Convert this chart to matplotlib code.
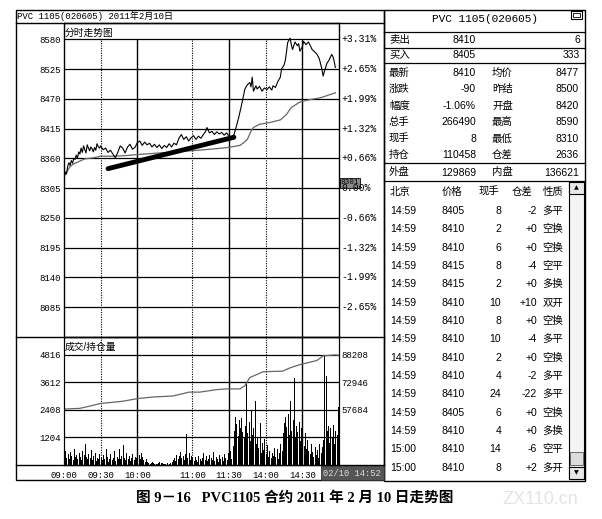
import numpy as np
import matplotlib.pyplot as plt
from matplotlib.patches import Rectangle

plt.rcParams['font.family'] = ['Liberation Sans', 'Noto Sans CJK SC']
MONO = ['Liberation Mono', 'Noto Sans CJK SC']

# 分钟序号: 0 = 09:00, 225 = 15:00 (10:15-10:30, 11:30-13:30 休市)
price_min = [0, 1, 2, 3, 4, 5, 6, 7, 8, 9, 10, 11, 12, 13, 14, 15, 16, 17, 18, 19,
             20, 21, 22, 23, 24, 25, 26, 27, 28, 29, 30, 32, 34, 36, 38, 40, 42, 44, 46, 48,
             50, 52, 54, 56, 58, 60, 62, 64, 66, 68, 70, 72, 74, 76, 78, 80, 82, 84, 86, 88,
             90, 92, 94, 96, 98, 100, 102, 104, 106, 108, 110, 112, 114, 116, 117, 119, 121, 123, 125, 127,
             129, 131, 133, 135, 137, 139, 141, 143, 145, 147, 148, 150, 152, 153, 154, 155, 157, 158, 160, 162,
             164, 166, 168, 170, 171, 173, 175, 177, 178, 180, 181, 182, 183, 185, 186, 187, 189, 191, 192, 193,
             195, 196, 198, 200, 202, 203, 205, 207, 208, 209, 211, 212, 213, 215, 217, 219, 220, 221, 222]
price_val = [8327, 8335, 8331, 8345, 8352, 8347, 8356, 8351, 8360, 8358, 8366, 8360, 8372, 8368, 8379, 8371, 8383, 8376, 8370, 8385,
             8379, 8374, 8381, 8378, 8372, 8380, 8375, 8387, 8382, 8379, 8383, 8376, 8379, 8371, 8375, 8368, 8361, 8371, 8383, 8379,
             8370, 8381, 8386, 8377, 8380, 8389, 8392, 8384, 8390, 8385, 8388, 8381, 8386, 8380, 8385, 8378, 8384, 8380, 8387, 8381,
             8388, 8385, 8397, 8404, 8395, 8400, 8392, 8398, 8402, 8395, 8401, 8397, 8404, 8410, 8417, 8407, 8410, 8404, 8409, 8405,
             8408, 8403, 8407, 8401, 8398, 8403, 8419, 8436, 8456, 8478, 8488, 8496, 8500, 8492, 8510, 8484, 8494, 8488, 8493, 8484,
             8490, 8487, 8492, 8486, 8494, 8491, 8502, 8510, 8525, 8532, 8540, 8556, 8574, 8582, 8570, 8561, 8575, 8568, 8572, 8558,
             8566, 8576, 8570, 8575, 8566, 8561, 8557, 8552, 8548, 8543, 8525, 8512, 8520, 8535, 8542, 8552, 8548, 8540, 8528]

avg_min = [0, 2, 5, 8, 12, 17, 24, 30, 40, 50, 60, 78, 90, 104, 115, 125, 134, 144, 147, 150,
           153, 155, 160, 168, 177, 182, 186, 193, 200, 210, 222]
avg_val = [8327, 8334, 8345, 8350, 8354, 8359, 8361, 8364, 8364, 8365, 8367, 8370, 8372, 8374, 8376, 8378, 8380, 8384, 8389, 8395,
           8410, 8417, 8423, 8426, 8431, 8441, 8454, 8464, 8468, 8472, 8481]

trend_min = [36, 139]
trend_val = [8341, 8399]

price_ticks = [8580, 8525, 8470, 8415, 8360, 8305, 8250, 8195, 8140, 8085]
base_price = 8305

vol = [420, 610, 300, 480, 250, 560, 380, 200, 690, 330, 450, 280, 520, 360, 240,
       610, 430, 920, 350, 270, 480, 310, 650, 220, 390, 540, 180, 300, 260, 470,
       350, 200, 420, 280, 710, 330, 150, 260, 480, 220, 300, 600, 190, 340, 250,
       720, 280, 410, 880, 310, 220, 540, 260, 380, 170, 290, 460, 230, 350, 300,
       1280, 420, 260, 540, 330, 200, 150, 280, 120, 90, 60, 80, 110, 70, 50,
       40, 60, 90, 120, 80, 100, 60, 40, 30, 70, 20, 50, 90, 150, 220,
       320, 180, 450, 260, 380, 560, 290, 410, 200, 470, 1360, 320, 520, 240, 380,
       290, 180, 350, 220, 130, 410, 260, 180, 300, 520, 240, 380, 160, 270, 450,
       320, 210, 560, 190, 360, 280, 140, 420, 250, 330, 190, 460, 300, 230, 540,
       380, 620, 250, 820, 1500, 2100, 1800, 1250, 1950, 1600, 2050, 1450, 1200, 1700, 3650,
       1400, 1900, 1050, 2380, 1300, 1600, 2800, 900, 1200, 750, 1850, 520, 980, 640, 1150,
       480, 860, 350, 620, 290, 540, 410, 760, 330, 680, 250, 520, 900, 620, 1400,
       1850, 2100, 1650, 2250, 1300, 2800, 1500, 1950, 3800, 1200, 1700, 1450, 1900, 1050, 1600,
       1250, 850, 1400, 700, 1100, 620, 480, 900, 560, 350, 780, 420, 650, 300, 900,
       520, 780, 1100, 4800, 3900, 1500, 1700, 980, 1600, 1200, 1750, 900, 1500, 1300, 2550]

oi_min = [1, 13, 19, 30, 48, 60, 73, 89, 97, 102, 111, 125, 133, 144, 148, 152, 163, 179, 185, 193,
          207, 212, 222, 225]
oi_val = [58205, 58585, 59500, 61280, 62510, 63970, 64880, 65430, 66660, 67570, 67570, 68980, 69360, 69360, 71130, 75660, 78890, 79220, 81050, 82820,
          85140, 87680, 88210, 88000]

vol_ticks = [1204, 2408, 3612, 4816]
oi_ticks = [57684, 72946, 88208]

time_pos = [0, 30, 60, 105, 135, 165, 195]
time_labels = ['09:00', '09:30', '10:00', '11:00', '11:30', '14:00', '14:30']
solid_x = [60, 135, 195]
dotted_x = [30, 105, 165]

# 右侧报价
bid_ask = [('卖出', '8410', '6'), ('买入', '8405', '333')]
quote_rows = [('最新', '8410', '均价', '8477'),
              ('涨跌', '-90', '昨结', '8500'),
              ('幅度', '-1.06%', '开盘', '8420'),
              ('总手', '266490', '最高', '8590'),
              ('现手', '8', '最低', '8310'),
              ('持仓', '110458', '仓差', '2636')]
outer_inner = ('外盘', '129869', '内盘', '136621')

deal_head = ['北京', '价格', '现手', '仓差', '性质']
deal_time = ['14:59'] * 13 + ['15:00'] * 2
deal_price = ['8405', '8410', '8410', '8415', '8415', '8410', '8410', '8410', '8410', '8410',
              '8410', '8405', '8410', '8410', '8410']
deal_size = ['8', '2', '6', '8', '2', '10', '8', '10', '2', '4', '24', '6', '4', '14', '8']
deal_oi = ['-2', '+0', '+0', '-4', '+0', '+10', '+0', '-4', '+0', '-2', '-22', '+0', '+0', '-6', '+2']
deal_kind = ['多平', '空换', '空换', '空平', '多换', '双开', '空换', '多平', '空换', '多平',
             '多平', '空换', '多换', '空平', '多开']

W, H = 602, 519
fig = plt.figure(figsize=(W / 100, H / 100), dpi=100)


def px_axes(x0, y0, x1, y1):
    return fig.add_axes([x0 / W, 1 - y1 / H, (x1 - x0) / W, (y1 - y0) / H])


bg = fig.add_axes([0, 0, 1, 1])
bg.set_xlim(0, W)
bg.set_ylim(H, 0)
bg.axis('off')

lc = 'black'
# left frame
bg.add_patch(Rectangle((16, 10), 368, 470, fill=False, lw=1.0, ec=lc))
for y in [23, 336.5, 465]:
    bg.plot([16, 384], [y, y], color=lc, lw=1.0)
bg.text(17, 16.5, 'PVC 1105(020605) 2011年2月10日', fontsize=6.5, family=MONO, va='center', ha='left')
bg.text(65, 32.5, '分时走势图', fontsize=7, va='center', ha='left')
bg.text(65, 346.5, '成交/持仓量', fontsize=7, va='center', ha='left')
bg.text(350, 183, '8301', fontsize=5.5, family=MONO, va='center', ha='center', zorder=5,
        bbox=dict(boxstyle='square,pad=0.15', fc='#8c8c8c', ec='black', lw=0.6))
bg.text(352, 473, '02/10 14:52', fontsize=6.3, family=MONO, va='center', ha='center', color='#dddddd',
        bbox=dict(boxstyle='square,pad=0.3', fc='#555555', ec='#333333', lw=0.6))

# right panel
bg.add_patch(Rectangle((384, 10), 201, 471, fill=False, lw=1.0, ec=lc))
for y in [32, 48, 63, 162.5, 181]:
    bg.plot([384, 585], [y, y], color=lc, lw=0.9)
bg.add_patch(Rectangle((571, 11), 11, 8, fill=False, lw=0.8, ec=lc))
bg.add_patch(Rectangle((573, 13), 7, 4, fill=False, lw=0.6, ec=lc))
bg.text(485, 19, 'PVC 1105(020605)', fontsize=8, family=MONO, ha='center', va='center')

fs = 7.5
for i, (lab, p, q) in enumerate(bid_ask):
    y = 40 + 15 * i
    bg.text(389, y, lab, fontsize=fs, ha='left', va='center')
    bg.text(476, y, p, fontsize=fs, ha='right', va='center')
    bg.text(580, y, q, fontsize=fs, ha='right', va='center')
for i, (l1, v1, l2, v2) in enumerate(quote_rows + [outer_inner]):
    y = 73 + 16.4 * i if i < len(quote_rows) else 172.5
    bg.text(389, y, l1, fontsize=fs, ha='left', va='center')
    bg.text(476, y, v1, fontsize=fs, ha='right', va='center')
    bg.text(492, y, l2, fontsize=fs, ha='left', va='center')
    bg.text(579, y, v2, fontsize=fs, ha='right', va='center')

hx = [(390, 'left'), (452, 'center'), (489, 'center'), (522, 'center'), (553, 'center')]
for (x, ha), lab in zip(hx, deal_head):
    bg.text(x, 192, lab, fontsize=fs, ha=ha, va='center')
for i in range(len(deal_time)):
    y = 211 + 18.33 * i
    bg.text(390, y, deal_time[i], fontsize=fs, ha='left', va='center')
    bg.text(453, y, deal_price[i], fontsize=fs, ha='center', va='center')
    bg.text(501, y, deal_size[i], fontsize=fs, ha='right', va='center')
    bg.text(537, y, deal_oi[i], fontsize=fs, ha='right', va='center')
    bg.text(553, y, deal_kind[i], fontsize=fs, ha='center', va='center')

# scrollbar
bg.add_patch(Rectangle((569, 182), 15, 297, fill=True, fc='#f4f4f4', lw=0.8, ec=lc))
bg.add_patch(Rectangle((569, 182), 15, 12, fill=True, fc='#e8e8e8', lw=0.8, ec=lc))
bg.add_patch(Rectangle((569, 467), 15, 12, fill=True, fc='#e8e8e8', lw=0.8, ec=lc))
bg.add_patch(Rectangle((570, 452), 13, 13, fill=True, fc='#dcdcdc', lw=0.6, ec='#555555'))
bg.text(576.5, 188, '▲', fontsize=4.5, family='DejaVu Sans', ha='center', va='center')
bg.text(576.5, 473, '▼', fontsize=4.5, family='DejaVu Sans', ha='center', va='center')

# caption + watermark
bg.text(295, 498, '图 9－16   PVC1105 合约 2011 年 2 月 10 日走势图', fontsize=10.5, fontweight='bold',
        family=['Liberation Serif', 'Noto Sans CJK SC'], ha='center', va='center')
bg.text(540, 499, 'ZX110.cn', fontsize=13, color='#e4e4e4', ha='center', va='center')

# price panel
ax = px_axes(64, 23, 339, 336.5)
ax.set_xlim(0, 225)
ax.set_ylim(8031, 8610)
for p in price_ticks:
    ax.axhline(p, color=lc, lw=0.9, zorder=1)
ax.vlines(solid_x, 8031, 8580, color=lc, lw=1.0, zorder=1)
ax.vlines(dotted_x, 8031, 8580, color=lc, lw=0.8, linestyles=(0, (1, 1.2)), zorder=1)
ax.plot(avg_min, avg_val, color='#666666', lw=0.9, zorder=2)
ax.plot(price_min, price_val, color='black', lw=0.8, zorder=3)
ax.plot(trend_min, trend_val, color='black', lw=3.5, solid_capstyle='round', zorder=4)
ax.set_xticks([])
ax.set_yticks(price_ticks)
ax.set_yticklabels([str(p) for p in price_ticks], fontsize=6.5, family=MONO)
ax.tick_params(axis='y', length=0, pad=2.5)
for p in price_ticks:
    pct = (p / base_price - 1) * 100
    lab = '0.00%' if abs(pct) < 0.005 else f'{pct:+.2f}%'
    ax.text(1.008, p, lab, transform=ax.get_yaxis_transform(), fontsize=7, family=MONO,
            ha='left', va='center', clip_on=False)
for s in ax.spines.values():
    s.set_linewidth(1.0)
ax.patch.set_alpha(0)

# volume / open interest panel
axv = px_axes(64, 337, 339, 465)
axv.set_xlim(0, 225)
axv.set_ylim(0, 5600)
for v in vol_ticks:
    axv.axhline(v, color=lc, lw=0.9, zorder=1)
axv.vlines(solid_x, 0, 5600, color=lc, lw=1.0, zorder=1)
axv.vlines(dotted_x, 0, 5600, color=lc, lw=0.8, linestyles=(0, (1, 1.2)), zorder=1)
axv.bar(np.arange(len(vol)), vol, width=0.85, color='black', align='edge', zorder=2)
axv.set_yticks(vol_ticks)
axv.set_yticklabels([str(v) for v in vol_ticks], fontsize=6.5, family=MONO)
axv.set_xticks(time_pos)
axv.set_xticklabels(time_labels, fontsize=6.5, family=MONO)
axv.tick_params(length=0)
axv.tick_params(axis='y', pad=2.5)
axv.tick_params(axis='x', pad=4)
axv.patch.set_alpha(0)

axo = axv.twinx()
axo.set_ylim(27161, 98147)
axo.plot(oi_min, oi_val, color='#666666', lw=0.9)
axo.set_yticks(oi_ticks)
axo.set_yticklabels([str(v) for v in oi_ticks], fontsize=6.5, family=MONO)
axo.tick_params(length=0, pad=1.5)

fig.savefig('out.png', dpi=100)
